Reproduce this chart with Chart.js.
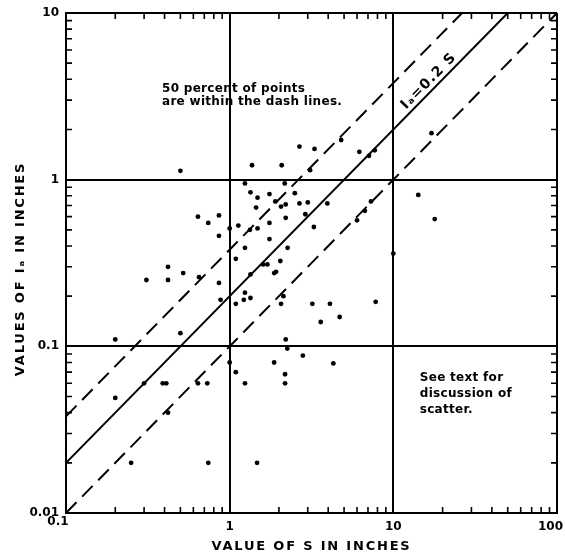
<!DOCTYPE html>
<html>
<head>
<meta charset="utf-8">
<script src="https://cdn.jsdelivr.net/npm/chart.js@4/dist/chart.umd.min.js"></script>
<style>
  html, body { margin: 0; padding: 0; background: #fff; }
  #wrap { width: 565px; height: 560px; }
</style>
</head>
<body>
<div id="wrap"><canvas id="chart" width="565" height="560"></canvas></div>
<script>
// observed points: S (in) and Ia (in)
const sValues = [
  0.50, 0.64, 0.74, 0.86, 0.86, 0.42, 0.31, 0.42, 0.52, 0.65,
  0.86, 0.88, 0.20, 0.50, 2.67, 3.3, 4.8, 1.37, 2.08, 3.1,
  1.24, 2.17, 6.2, 7.1, 7.7, 1.34, 1.75, 2.5, 1.48, 1.45,
  1.9, 2.06, 2.2, 2.67, 3.0, 3.95, 2.9, 1.0, 1.13, 1.33,
  1.48, 1.75, 2.2, 3.27, 1.75, 1.24, 2.26, 6.0, 6.7, 7.3,
  14.2, 17.9, 17.1, 10, 1.09, 1.6, 1.7, 2.04, 1.92, 1.87,
  1.34, 1.24, 1.09, 1.22, 1.34, 2.13, 2.06, 3.2, 4.1, 7.8,
  3.6, 4.7, 2.2, 2.25, 2.8, 1.87, 4.3, 2.18, 2.18, 1.0,
  1.09, 1.24, 0.30, 0.39, 0.41, 0.64, 0.73, 0.20, 0.42, 0.25,
  0.74, 1.47
];
const iaValues = [
  1.13, 0.60, 0.55, 0.61, 0.46, 0.30, 0.25, 0.25, 0.275, 0.26,
  0.24, 0.19, 0.11, 0.12, 1.58, 1.53, 1.73, 1.22, 1.22, 1.14,
  0.95, 0.95, 1.47, 1.39, 1.50, 0.84, 0.82, 0.83, 0.78, 0.68,
  0.74, 0.69, 0.71, 0.72, 0.73, 0.72, 0.62, 0.51, 0.53, 0.50,
  0.51, 0.55, 0.59, 0.52, 0.44, 0.39, 0.39, 0.57, 0.65, 0.74,
  0.81, 0.58, 1.9, 0.36, 0.335, 0.31, 0.31, 0.325, 0.28, 0.275,
  0.27, 0.21, 0.18, 0.19, 0.195, 0.20, 0.18, 0.18, 0.18, 0.185,
  0.14, 0.15, 0.11, 0.097, 0.088, 0.080, 0.079, 0.068, 0.060, 0.080,
  0.070, 0.060, 0.060, 0.060, 0.060, 0.060, 0.060, 0.049, 0.040, 0.020,
  0.020, 0.020
];

// Ia = 0.2 S and the two dashed envelope lines (end points)
const solidLineS = [0.1, 50];
const solidLineIa = [0.02, 10];
const upperDashS = [0.1, 26.3];
const upperDashIa = [0.038, 10];
const lowerDashS = [0.1, 100];
const lowerDashIa = [0.01, 10];

const xTickValues = [0.1, 1, 10, 100];
const xTickLabels = ['0.1', '1', '10', '100'];
const yTickValues = [0.01, 0.1, 1, 10];
const minorSteps = [2, 3, 4, 5, 6, 7, 8, 9];

const xTitle = 'VALUE OF S IN INCHES';
const yTitle = 'VALUES OF I\u2090 IN INCHES';

const FONT = '"DejaVu Sans", "Liberation Sans", sans-serif';

function toPoints(xs, ys) {
  return xs.map((x, i) => ({ x: x, y: ys[i] }));
}

function spaced(ctx, px) {
  if ('letterSpacing' in ctx) ctx.letterSpacing = px;
}

// minor ticks inside the frame, x labels, axis titles and the text notes
const framePlugin = {
  id: 'framePlugin',
  afterDatasetsDraw(chart) {
    const ctx = chart.ctx;
    const area = chart.chartArea;
    const xs = chart.scales.x;
    const ys = chart.scales.y;
    const len = 6;

    ctx.save();
    ctx.strokeStyle = '#000';
    ctx.lineWidth = 1.6;
    ctx.beginPath();
    xTickValues.slice(0, -1).forEach(d => {
      minorSteps.forEach(m => {
        const px = xs.getPixelForValue(d * m);
        ctx.moveTo(px, area.bottom); ctx.lineTo(px, area.bottom - len);
        ctx.moveTo(px, area.top); ctx.lineTo(px, area.top + len);
      });
    });
    yTickValues.slice(0, -1).forEach(d => {
      minorSteps.forEach(m => {
        const py = ys.getPixelForValue(d * m);
        ctx.moveTo(area.left, py); ctx.lineTo(area.left + len, py);
        ctx.moveTo(area.right, py); ctx.lineTo(area.right - len, py);
      });
    });
    ctx.stroke();

    ctx.fillStyle = '#000';
    ctx.textBaseline = 'middle';

    // x tick labels (first sits a little higher and left, last pulled inside)
    ctx.font = 'bold 12px ' + FONT;
    xTickValues.forEach((v, i) => {
      const px = xs.getPixelForValue(v);
      if (i === 0) {
        ctx.textAlign = 'center';
        ctx.fillText(xTickLabels[i], px - 8, area.bottom + 9);
      } else if (i === xTickValues.length - 1) {
        ctx.textAlign = 'right';
        ctx.fillText(xTickLabels[i], px + 6, area.bottom + 14);
      } else {
        ctx.textAlign = 'center';
        ctx.fillText(xTickLabels[i], px, area.bottom + 14);
      }
    });

    // axis titles
    ctx.font = 'bold 13px ' + FONT;
    ctx.textAlign = 'center';
    spaced(ctx, '1.8px');
    ctx.fillText(xTitle, (area.left + area.right) / 2, 547);
    ctx.save();
    ctx.translate(21, (area.top + area.bottom) / 2 + 6);
    ctx.rotate(-Math.PI / 2);
    ctx.fillText(yTitle, 0, 0);
    ctx.restore();

    // notes
    ctx.font = 'bold 12px ' + FONT;
    ctx.textAlign = 'left';
    spaced(ctx, '0.3px');
    let px = xs.getPixelForValue(0.386);
    let py = ys.getPixelForValue(3.5);
    ctx.fillText('50 percent of points', px, py);
    ctx.fillText('are within the dash lines.', px, py + 13);

    px = xs.getPixelForValue(14.5);
    py = ys.getPixelForValue(0.065);
    ctx.fillText('See text for', px, py);
    ctx.fillText('discussion of', px, py + 16);
    ctx.fillText('scatter.', px, py + 32);

    // label along the solid line
    const x0 = xs.getPixelForValue(solidLineS[0]), y0 = ys.getPixelForValue(solidLineIa[0]);
    const x1 = xs.getPixelForValue(solidLineS[1]), y1 = ys.getPixelForValue(solidLineIa[1]);
    const ang = Math.atan2(y1 - y0, x1 - x0);
    ctx.translate(xs.getPixelForValue(16.5), ys.getPixelForValue(3.9));
    ctx.rotate(ang);
    ctx.font = 'bold 14px ' + FONT;
    ctx.textAlign = 'center';
    spaced(ctx, '1.2px');
    ctx.fillText('I\u2090=0.2 S', 0, 0);
    ctx.restore();
  }
};

new Chart(document.getElementById('chart'), {
  type: 'scatter',
  data: {
    datasets: [
      {
        data: toPoints(sValues, iaValues),
        backgroundColor: '#000',
        borderColor: '#000',
        pointRadius: 2.4,
        pointBorderWidth: 0
      },
      {
        data: toPoints(solidLineS, solidLineIa),
        showLine: true,
        borderColor: '#000',
        borderWidth: 2,
        pointRadius: 0
      },
      {
        data: toPoints(upperDashS, upperDashIa),
        showLine: true,
        borderColor: '#000',
        borderWidth: 2,
        borderDash: [15, 8],
        pointRadius: 0
      },
      {
        data: toPoints(lowerDashS, lowerDashIa),
        showLine: true,
        borderColor: '#000',
        borderWidth: 2,
        borderDash: [15, 8],
        pointRadius: 0
      }
    ]
  },
  options: {
    responsive: false,
    animation: false,
    devicePixelRatio: 1,
    layout: { padding: { left: 0, top: 13, right: 8, bottom: 0 } },
    plugins: {
      legend: { display: false },
      tooltip: { enabled: false }
    },
    scales: {
      x: {
        type: 'logarithmic',
        min: 0.1,
        max: 100,
        afterBuildTicks: scale => { scale.ticks = xTickValues.map(v => ({ value: v })); },
        afterFit: scale => {
          scale.height = 47;
          scale.paddingLeft = 0;
          scale.paddingRight = 0;
        },
        grid: { color: '#000', lineWidth: 2, drawTicks: false },
        border: { color: '#000', width: 2 },
        ticks: { display: false }
      },
      y: {
        type: 'logarithmic',
        min: 0.01,
        max: 10,
        afterBuildTicks: scale => { scale.ticks = yTickValues.map(v => ({ value: v })); },
        afterFit: scale => {
          scale.width = 66;
          scale.paddingTop = 0;
          scale.paddingBottom = 0;
        },
        grid: { color: '#000', lineWidth: 2, drawTicks: false },
        border: { color: '#000', width: 2 },
        ticks: {
          color: '#000',
          padding: 7,
          font: { family: FONT, size: 12, weight: 'bold' },
          callback: v => String(v)
        }
      }
    }
  },
  plugins: [framePlugin]
});
</script>
</body>
</html>
